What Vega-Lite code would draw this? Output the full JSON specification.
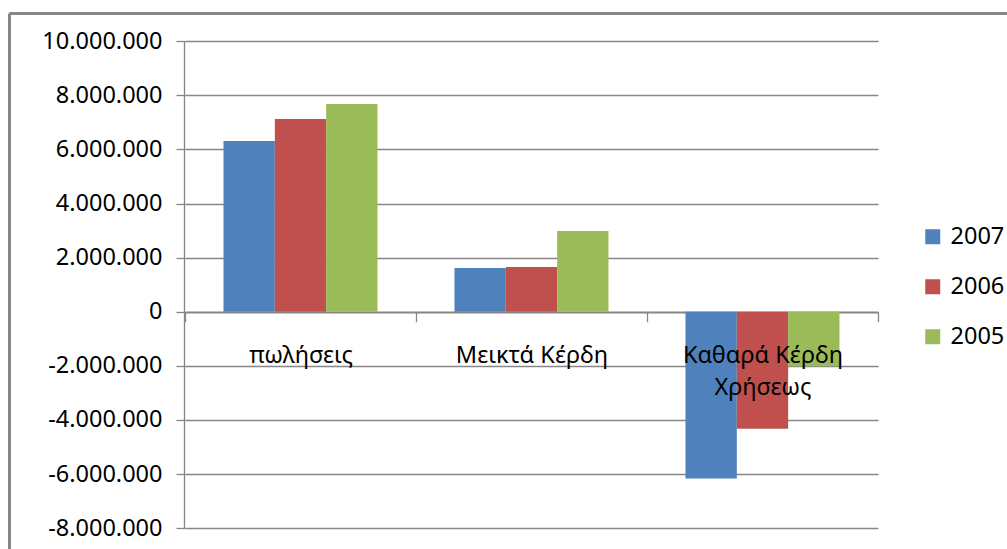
{
  "$schema": "https://vega.github.io/schema/vega-lite/v6.json",
  "width": 998,
  "height": 536,
  "padding": {"left": 9, "top": 13, "right": 0, "bottom": 0},
  "autosize": {"type": "none"},
  "background": "#ffffff",
  "config": {
    "view": {"stroke": null},
    "font": "Noto Sans",
    "locale": {
      "number": {"decimal": ",", "thousands": ".", "grouping": [3], "currency": ["", " €"], "minus": "-"}
    },
    "axis": {"title": null, "labelFont": "Noto Sans", "labelColor": "#000000", "grid": false}
  },
  "data": {
    "values": [
      {"item": "πωλήσεις", "year": "2007", "amount": 6310000},
      {"item": "πωλήσεις", "year": "2006", "amount": 7120000},
      {"item": "πωλήσεις", "year": "2005", "amount": 7680000},
      {"item": "Μεικτά Κέρδη", "year": "2007", "amount": 1615000},
      {"item": "Μεικτά Κέρδη", "year": "2006", "amount": 1650000},
      {"item": "Μεικτά Κέρδη", "year": "2005", "amount": 2980000},
      {"item": "Καθαρά Κέρδη Χρήσεως", "year": "2007", "amount": -6170000},
      {"item": "Καθαρά Κέρδη Χρήσεως", "year": "2006", "amount": -4330000},
      {"item": "Καθαρά Κέρδη Χρήσεως", "year": "2005", "amount": -2020000}
    ]
  },
  "layer": [
    {
      "description": "chart frame (top) and horizontal gridlines",
      "mark": {"type": "bar", "opacity": 0},
      "encoding": {
        "x": {
          "field": "item", "type": "nominal",
          "sort": ["πωλήσεις", "Μεικτά Κέρδη", "Καθαρά Κέρδη Χρήσεως"],
          "scale": {"paddingInner": 0, "paddingOuter": 0.6602, "align": 0.577},
          "axis": {"orient": "top", "offset": 0, "domain": true, "domainColor": "#868686", "domainWidth": 3, "ticks": false, "labels": false}
        },
        "y": {
          "field": "amount", "type": "quantitative",
          "scale": {"domain": [-8772600, 11042500], "nice": false, "zero": false},
          "axis": {
            "orient": "left", "offset": -176, "domain": false, "labels": false,
            "values": [-8000000, -6000000, -4000000, -2000000, 0, 2000000, 4000000, 6000000, 8000000, 10000000],
            "tickSize": -693, "tickColor": "#868686",
            "tickWidth": {"condition": {"test": "datum.value === 0", "value": 2}, "value": 1.3}
          }
        }
      }
    },
    {
      "description": "chart frame (left) and vertical value-axis line",
      "mark": {"type": "bar", "opacity": 0},
      "encoding": {
        "x": {
          "field": "item", "type": "nominal",
          "sort": ["πωλήσεις", "Μεικτά Κέρδη", "Καθαρά Κέρδη Χρήσεως"],
          "axis": {
            "orient": "bottom", "offset": -20.9, "domain": false, "labels": false,
            "values": ["πωλήσεις"], "bandPosition": 0,
            "tickSize": -487, "tickColor": "#868686", "tickWidth": 1.3
          }
        },
        "y": {
          "field": "amount", "type": "quantitative",
          "axis": {"orient": "left", "offset": 0, "domain": true, "domainColor": "#868686", "domainWidth": 3, "ticks": false, "labels": false}
        }
      }
    },
    {
      "description": "grouped bars with category and value labels",
      "mark": {"type": "bar"},
      "encoding": {
        "x": {
          "field": "item", "type": "nominal",
          "sort": ["πωλήσεις", "Μεικτά Κέρδη", "Καθαρά Κέρδη Χρήσεως"],
          "axis": {
            "orient": "bottom", "offset": -237.3, "domain": false, "zindex": 1,
            "tickBand": "extent", "tickSize": 10, "tickColor": "#868686", "tickWidth": 1.3,
            "labelAngle": 0, "labelFontSize": 23.5, "labelPadding": 22, "labelLineHeight": 32,
            "labelLimit": 400, "labelOverlap": false,
            "labelExpr": "datum.value === 'Καθαρά Κέρδη Χρήσεως' ? ['Καθαρά Κέρδη', 'Χρήσεως'] : datum.label"
          }
        },
        "xOffset": {
          "field": "year", "type": "nominal", "sort": ["2007", "2006", "2005"],
          "scale": {"paddingInner": 0, "paddingOuter": 0.75}
        },
        "y": {
          "field": "amount", "type": "quantitative",
          "axis": {
            "orient": "left", "offset": -176, "domain": false,
            "values": [-8000000, -6000000, -4000000, -2000000, 0, 2000000, 4000000, 6000000, 8000000, 10000000],
            "format": ",d", "tickSize": 9, "tickColor": "#868686", "tickWidth": 1.3,
            "labelFontSize": 23.5, "labelPadding": 14
          }
        },
        "y2": {"datum": 0},
        "color": {
          "field": "year", "type": "nominal", "sort": ["2007", "2006", "2005"],
          "scale": {"domain": ["2007", "2006", "2005"], "range": ["#4F81BD", "#C0504D", "#9BBB59"]},
          "legend": {
            "title": null, "orient": "none", "legendX": 912, "legendY": 212, "padding": 0,
            "symbolType": "square", "symbolSize": 225, "symbolStrokeWidth": 0,
            "labelFont": "Noto Sans", "labelFontSize": 23.5, "labelColor": "#000000",
            "labelOffset": 6, "rowPadding": 25
          }
        }
      }
    }
  ],
  "resolve": {"axis": {"x": "independent", "y": "independent"}}
}
